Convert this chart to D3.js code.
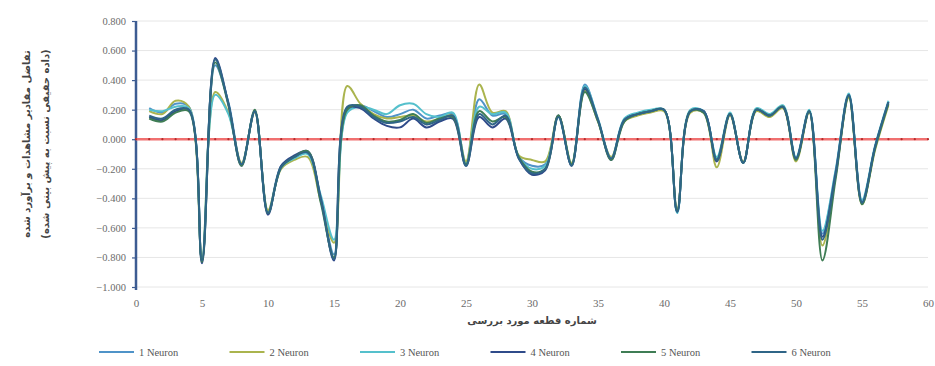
<!DOCTYPE html>
<html>
<head>
<meta charset="utf-8">
<script src="https://cdn.jsdelivr.net/npm/d3@7"></script>
<style>
  html, body { margin: 0; padding: 0; background: #ffffff; }
  svg { display: block; }
</style>
</head>
<body>
<svg id="chart" width="935" height="366"></svg>
<script>
// Piece numbers along the x axis
const pieces = d3.range(1, 58);

// Residuals (observed minus predicted) for each network size
const neuron1 = [0.21,0.18,0.24,0.22,-0.82,0.50,0.25,-0.17,0.19,-0.49,-0.18,-0.12,-0.09,-0.40,-0.78,0.19,0.23,0.19,0.15,0.17,0.20,0.14,0.16,0.17,-0.16,0.27,0.16,0.17,-0.12,-0.18,-0.17,0.16,-0.17,0.37,0.13,-0.13,0.13,0.17,0.19,0.20,-0.49,0.19,0.19,-0.13,0.17,-0.16,0.20,0.16,0.22,-0.13,0.19,-0.64,-0.22,0.30,-0.42,-0.05,0.25];
const neuron2 = [0.19,0.17,0.26,0.22,-0.80,0.32,0.18,-0.16,0.18,-0.48,-0.20,-0.14,-0.12,-0.42,-0.70,0.36,0.24,0.17,0.14,0.15,0.16,0.12,0.14,0.16,-0.15,0.37,0.18,0.19,-0.11,-0.14,-0.15,0.16,-0.16,0.33,0.12,-0.12,0.12,0.16,0.18,0.19,-0.47,0.18,0.18,-0.19,0.16,-0.15,0.19,0.15,0.21,-0.15,0.18,-0.72,-0.25,0.28,-0.44,-0.07,0.23];
const neuron3 = [0.20,0.19,0.22,0.21,-0.81,0.30,0.17,-0.17,0.19,-0.50,-0.19,-0.13,-0.10,-0.38,-0.68,0.18,0.22,0.20,0.17,0.23,0.24,0.17,0.15,0.18,-0.17,0.22,0.17,0.18,-0.12,-0.20,-0.18,0.15,-0.17,0.36,0.14,-0.13,0.14,0.18,0.20,0.20,-0.50,0.20,0.19,-0.12,0.18,-0.16,0.21,0.17,0.23,-0.12,0.20,-0.62,-0.21,0.31,-0.41,-0.04,0.26];
const neuron4 = [0.15,0.13,0.19,0.20,-0.84,0.55,0.24,-0.18,0.19,-0.51,-0.18,-0.11,-0.08,-0.40,-0.82,0.21,0.21,0.14,0.09,0.08,0.14,0.08,0.12,0.14,-0.18,0.15,0.08,0.14,-0.13,-0.24,-0.21,0.16,-0.18,0.34,0.13,-0.14,0.13,0.17,0.19,0.20,-0.49,0.19,0.19,-0.15,0.17,-0.16,0.20,0.16,0.22,-0.13,0.19,-0.66,-0.23,0.30,-0.43,-0.05,0.25];
const neuron5 = [0.14,0.12,0.18,0.19,-0.83,0.52,0.23,-0.18,0.20,-0.50,-0.19,-0.12,-0.08,-0.43,-0.80,0.20,0.23,0.16,0.12,0.13,0.17,0.11,0.14,0.15,-0.17,0.19,0.12,0.15,-0.12,-0.22,-0.20,0.16,-0.17,0.32,0.12,-0.14,0.12,0.17,0.19,0.20,-0.48,0.19,0.18,-0.14,0.17,-0.16,0.20,0.16,0.22,-0.14,0.19,-0.82,-0.27,0.29,-0.44,-0.06,0.24];
const neuron6 = [0.16,0.14,0.20,0.20,-0.82,0.54,0.24,-0.17,0.19,-0.50,-0.19,-0.12,-0.09,-0.41,-0.81,0.22,0.22,0.15,0.11,0.12,0.15,0.10,0.13,0.16,-0.18,0.17,0.10,0.16,-0.13,-0.23,-0.20,0.15,-0.18,0.35,0.13,-0.13,0.13,0.17,0.19,0.20,-0.49,0.19,0.19,-0.14,0.17,-0.16,0.20,0.16,0.22,-0.13,0.19,-0.68,-0.24,0.30,-0.43,-0.05,0.25];

const seriesNames = ["1 Neuron","2 Neuron","3 Neuron","4 Neuron","5 Neuron","6 Neuron"];
const seriesValues = [neuron1, neuron2, neuron3, neuron4, neuron5, neuron6];
const seriesColors = ["#4f93c8","#aab44e","#55c0cc","#2f4b8a","#3f7d55","#2f6587"];

const xTicks = d3.range(0, 61, 5);
const yTicks = d3.range(-1.0, 0.8001, 0.2).map(v => +v.toFixed(1));

const yTitleLine1 = "تفاضل مقادیر مشاهدات و برآورد شده";
const yTitleLine2 = "(داده حقیقی نسبت به پیش بینی شده)";
const xTitle = "شماره قطعه مورد بررسی";

const svg = d3.select("#chart");
const plotLeft = 136, plotRight = 928, plotTop = 21, plotBottom = 287;

const x = d3.scaleLinear().domain([0, 60]).range([plotLeft, plotRight]);
const y = d3.scaleLinear().domain([-1.0, 0.8]).range([plotBottom, plotTop]);

const serif = "'Liberation Serif', 'Times New Roman', serif";

// Horizontal gridlines
svg.append("g")
  .selectAll("line")
  .data(yTicks)
  .join("line")
  .attr("x1", plotLeft).attr("x2", plotRight)
  .attr("y1", d => y(d)).attr("y2", d => y(d))
  .attr("stroke", "#e6e6e6")
  .attr("stroke-width", 1);

// Y axis with three-decimal labels
const yAxis = svg.append("g")
  .attr("transform", `translate(${plotLeft},0)`)
  .call(d3.axisLeft(y).tickValues(yTicks).tickFormat(d3.format(".3f")).tickSize(4).tickPadding(6));
yAxis.select(".domain").attr("stroke", "#3d5c92").attr("stroke-width", 2.5)
  .attr("d", `M0,${plotTop}V${plotBottom + 3}`);
yAxis.selectAll(".tick line").attr("stroke", "#3d5c92").attr("stroke-width", 1.2);
yAxis.selectAll("text").attr("fill", "#6b6b6b").style("font-family", serif).style("font-size", "10.5px");

// X axis labels only
const xAxis = svg.append("g")
  .attr("transform", `translate(0,${plotBottom})`)
  .call(d3.axisBottom(x).tickValues(xTicks).tickSize(0).tickPadding(12));
xAxis.select(".domain").remove();
xAxis.selectAll("text").attr("fill", "#6b6b6b").style("font-family", serif).style("font-size", "11px");

// Zero reference line with point markers
svg.append("line")
  .attr("x1", plotLeft).attr("x2", plotRight)
  .attr("y1", y(0)).attr("y2", y(0))
  .attr("stroke", "#f07070").attr("stroke-width", 2.5);
svg.append("g")
  .selectAll("circle")
  .data(d3.range(0, 61))
  .join("circle")
  .attr("cx", d => x(d)).attr("cy", y(0))
  .attr("r", 1.1)
  .attr("fill", "#b52a2a");

// Series lines
const line = d3.line()
  .x((d, i) => x(pieces[i]))
  .y(d => y(d))
  .curve(d3.curveCatmullRom.alpha(0.5));

svg.append("g")
  .selectAll("path")
  .data(seriesValues)
  .join("path")
  .attr("d", d => line(d))
  .attr("fill", "none")
  .attr("stroke", (d, i) => seriesColors[i])
  .attr("stroke-width", 2)
  .attr("stroke-linejoin", "round");

// Axis titles
svg.append("text")
  .attr("x", (plotLeft + plotRight) / 2).attr("y", 324)
  .attr("text-anchor", "middle")
  .attr("fill", "#444")
  .style("font-family", "'DejaVu Sans', sans-serif")
  .style("font-size", "10px")
  .style("font-weight", "bold")
  .attr("direction", "rtl")
  .text(xTitle);

const yt = svg.append("g").attr("transform", `translate(0,${(plotTop + plotBottom) / 2 - 10}) rotate(-90)`);
yt.append("text")
  .attr("x", 0).attr("y", 30)
  .attr("text-anchor", "middle")
  .attr("fill", "#444")
  .style("font-family", "'DejaVu Sans', sans-serif")
  .style("font-size", "10px")
  .style("font-weight", "bold")
  .text(yTitleLine1);
yt.append("text")
  .attr("x", 0).attr("y", 49)
  .attr("text-anchor", "middle")
  .attr("fill", "#444")
  .style("font-family", "'DejaVu Sans', sans-serif")
  .style("font-size", "10px")
  .style("font-weight", "bold")
  .text(yTitleLine2);

// Legend
const legend = svg.append("g")
  .selectAll("g")
  .data(seriesNames)
  .join("g")
  .attr("transform", (d, i) => `translate(${99 + i * 130.5},352)`);
legend.append("line")
  .attr("x1", 0).attr("x2", 35)
  .attr("y1", 0).attr("y2", 0)
  .attr("stroke", (d, i) => seriesColors[i])
  .attr("stroke-width", 2);
legend.append("text")
  .attr("x", 40).attr("y", 3.5)
  .attr("fill", "#555")
  .style("font-family", serif)
  .style("font-size", "10.5px")
  .text(d => d);
</script>
</body>
</html>
